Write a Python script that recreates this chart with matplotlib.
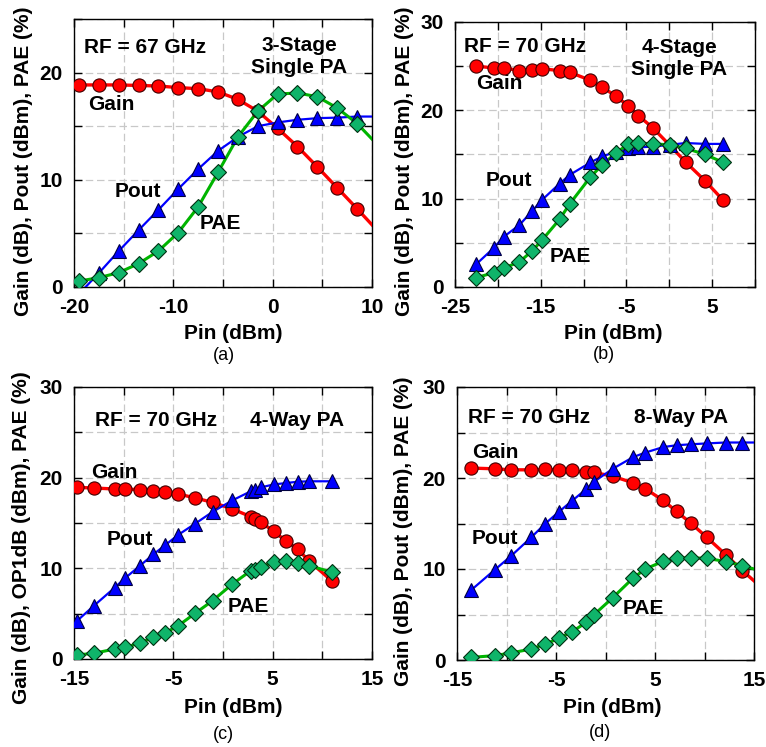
import numpy as np
import matplotlib.pyplot as plt
from matplotlib.ticker import MultipleLocator, FuncFormatter

plt.rcParams['font.family'] = ['Liberation Sans', 'DejaVu Sans']
plt.rcParams['font.weight'] = 'bold'

# ---- (a) 3-stage single PA, 67 GHz ----
pin_a = [-19.5, -17.5, -15.5, -13.5, -11.5, -9.5, -7.5, -5.5, -3.5, -1.5,
         0.5, 2.5, 4.5, 6.5, 8.5]
gain_a = [18.85, 18.85, 18.85, 18.8, 18.75, 18.6, 18.5, 18.2, 17.5, 16.4,
          14.8, 13.1, 11.2, 9.25, 7.3]
pout_a = [-0.65, 1.3, 3.35, 5.3, 7.2, 9.15, 11.0, 12.7, 14.0, 15.0,
          15.35, 15.6, 15.75, 15.8, 15.9]
pae_a = [0.55, 0.87, 1.34, 2.18, 3.36, 5.08, 7.48, 10.7, 14.0, 16.4,
         18.0, 18.1, 17.75, 16.7, 15.25]
# where the fitted curves leave the plot at Pin = 10 dBm
edge_a = {'gain': 5.8, 'pout': 15.9, 'pae': 13.8}

# ---- (b) 4-stage single PA, 70 GHz ----
pin_b = [-22.5, -20.5, -19.3, -17.5, -16.0, -14.8, -12.8, -11.6, -9.2, -7.8,
         -6.2, -4.8, -3.6, -1.9, 0.1, 1.9, 4.2, 6.3]
gain_b = [25.0, 24.8, 24.8, 24.5, 24.6, 24.7, 24.5, 24.3, 23.4, 22.6,
          21.6, 20.5, 19.4, 18.0, 16.0, 14.15, 12.0, 9.8]
pout_b = [2.6, 4.4, 5.7, 7.0, 8.6, 9.9, 11.7, 12.7, 14.1, 14.8,
          15.3, 15.7, 15.8, 15.9, 16.1, 16.3, 16.2, 16.2]
pae_b = [1.06, 1.62, 2.15, 2.83, 4.08, 5.36, 7.66, 9.43, 12.45, 13.85,
         15.2, 16.15, 16.3, 16.2, 16.1, 15.7, 15.0, 14.1]

# ---- (c) 4-way PA, 70 GHz ----
pin_c = [-14.7, -13.0, -10.9, -9.9, -8.4, -7.0, -5.85, -4.5, -2.8, -1.05,
         0.95, 2.8, 3.25, 3.85, 5.1, 6.3, 7.5, 8.7, 11.0]
gain_c = [18.93, 18.86, 18.75, 18.75, 18.68, 18.57, 18.38, 18.2, 17.76, 17.28,
          16.54, 15.7, 15.4, 15.07, 14.08, 13.05, 12.13, 10.77, 8.57]
pout_c = [4.2, 5.87, 7.87, 8.88, 10.25, 11.55, 12.53, 13.7, 14.93, 16.23,
          17.5, 18.5, 18.67, 18.94, 19.25, 19.4, 19.55, 19.6, 19.6]
pae_c = [0.44, 0.63, 1.1, 1.29, 1.73, 2.39, 2.87, 3.68, 5.04, 6.43,
         8.27, 9.74, 9.85, 10.18, 10.66, 10.77, 10.59, 10.29, 9.56]

# ---- (d) 8-way PA, 70 GHz ----
pin_d = [-13.55, -11.2, -9.57, -7.48, -6.07, -4.69, -3.37, -1.92, -1.15, 0.71,
         2.8, 4.04, 5.83, 7.18, 8.59, 10.21, 12.13, 13.82]
gain_d = [21.09, 21.01, 20.9, 20.9, 20.94, 20.9, 20.83, 20.61, 20.61, 20.2,
          19.47, 18.81, 17.53, 16.32, 15.07, 13.5, 11.59, 9.83]
pout_d = [7.7, 9.9, 11.4, 13.5, 15.0, 16.3, 17.5, 18.8, 19.6, 21.0,
          22.3, 22.8, 23.4, 23.6, 23.7, 23.8, 23.9, 23.9]
pae_d = [0.29, 0.48, 0.77, 1.21, 1.76, 2.38, 3.12, 4.14, 4.99, 6.82,
         9.02, 10.01, 10.85, 11.22, 11.22, 11.18, 10.82, 10.38]
edge_d = {'gain': 8.7, 'pout': 23.9, 'pae': 10.0}

RED, BLUE, GREEN, GREEN_MK = '#ff0000', '#0000ff', '#00b400', '#0fb46a'
FS = 15

W, H = 766, 747
fig = plt.figure(figsize=(W / 100, H / 100), dpi=100)


def box(l, t, r, b):
    return [l / W, 1 - b / H, (r - l) / W, (b - t) / H]


panels = [
    dict(pos=box(74, 19, 372, 287), xlim=(-20, 10), ylim=(0, 25),
         xlabels=[-20, -10, 0, 10], ylabels=[0, 10, 20],
         data=(pin_a, gain_a, pout_a, pae_a), edge=edge_a,
         ylab='Gain (dB), Pout (dBm), PAE (%)', tag='(a)',
         ylab_xy=(-0.171, 0.47), xlab_xy=(0.534, -0.172), tag_xy=(0.503, -0.254),
         rf=('RF = 67 GHz', -12.85, 22.3), name=('3-Stage\nSingle PA', 2.65, 21.5),
         lab={'Gain': (-16.2, 17.07), 'Pout': (-13.6, 8.9), 'PAE': (-5.3, 5.94)}),
    dict(pos=box(455, 22, 755, 287), xlim=(-25, 10), ylim=(0, 30),
         xlabels=[-25, -15, -5, 5], ylabels=[0, 10, 20, 30],
         data=(pin_b, gain_b, pout_b, pae_b), edge=None,
         ylab='Gain (dB), Pout (dBm), PAE (%)', tag='(b)',
         ylab_xy=(-0.169, 0.476), xlab_xy=(0.526, -0.175), tag_xy=(0.498, -0.256),
         rf=('RF = 70 GHz', -16.8, 27.18), name=('4-Stage\nSingle PA', 1.18, 25.86),
         lab={'Gain': (-19.8, 23.04), 'Pout': (-18.7, 12.0), 'PAE': (-11.6, 3.5)}),
    dict(pos=box(74, 387, 372, 659), xlim=(-15, 15), ylim=(0, 30),
         xlabels=[-15, -5, 5, 15], ylabels=[0, 10, 20, 30],
         data=(pin_c, gain_c, pout_c, pae_c), edge=None,
         ylab='Gain (dB), OP1dB (dBm), PAE (%)', tag='(c)',
         ylab_xy=(-0.176, 0.445), xlab_xy=(0.535, -0.178), tag_xy=(0.503, -0.276),
         rf=('RF = 70 GHz', -6.74, 26.3), name=('4-Way PA', 7.48, 26.3),
         lab={'Gain': (-10.94, 20.54), 'Pout': (-9.33, 13.17), 'PAE': (2.55, 5.78)}),
    dict(pos=box(457, 387, 754, 660), xlim=(-15, 15), ylim=(0, 30),
         xlabels=[-15, -5, 5, 15], ylabels=[0, 10, 20, 30],
         data=(pin_d, gain_d, pout_d, pae_d), edge=edge_d,
         ylab='Gain (dB), Pout (dBm), PAE (%)', tag='(d)',
         ylab_xy=(-0.18, 0.47), xlab_xy=(0.523, -0.173), tag_xy=(0.483, -0.265),
         rf=('RF = 70 GHz', -7.72, 26.62), name=('8-Way PA', 7.62, 26.62),
         lab={'Gain': (-11.16, 22.77), 'Pout': (-11.19, 13.39), 'PAE': (3.81, 5.61)}),
]

for p in panels:
    ax = fig.add_axes(p['pos'])
    pin, gain, pout, pae = p['data']
    x_line = list(pin)
    extra_x = [p['xlim'][1]] if p['edge'] else []

    def ext(v, key):
        return list(v) + ([p['edge'][key]] if p['edge'] else [])

    ax.plot(x_line + extra_x, ext(gain, 'gain'), '-', color=RED, lw=2.4, zorder=3)
    ax.plot(x_line + extra_x, ext(pout, 'pout'), '-', color=BLUE, lw=1.6, zorder=3)
    ax.plot(x_line + extra_x, ext(pae, 'pae'), '-', color=GREEN, lw=2.2, zorder=3)
    ax.plot(pin, gain, 'o', ms=9.5, mfc=RED, mec='#400000', mew=0.8, zorder=4)
    ax.plot(pin, pout, '^', ms=10.5, mfc=BLUE, mec='#000040', mew=0.8, zorder=4)
    ax.plot(pin, pae, 'D', ms=7.8, mfc=GREEN_MK, mec='#003010', mew=0.8, zorder=5)

    ax.set_xlim(*p['xlim'])
    ax.set_ylim(*p['ylim'])
    ax.xaxis.set_major_locator(MultipleLocator(5))
    ax.yaxis.set_major_locator(MultipleLocator(5))
    xl, yl = p['xlabels'], p['ylabels']
    ax.xaxis.set_major_formatter(FuncFormatter(
        lambda v, _, xl=xl: f'{v:g}' if round(v) in xl else ''))
    ax.yaxis.set_major_formatter(FuncFormatter(
        lambda v, _, yl=yl: f'{v:g}' if round(v) in yl else ''))
    ax.tick_params(direction='in', length=6, width=1, top=True, right=True,
                   labelsize=FS, pad=8)
    for lbl in ax.get_xticklabels() + ax.get_yticklabels():
        lbl.set_fontweight('bold')
    ax.grid(True, color='#c8c8c8', ls=(0, (6, 3)), lw=0.9)
    ax.set_axisbelow(True)
    for s in ax.spines.values():
        s.set_linewidth(1.0)

    ax.set_xlabel('Pin (dBm)', fontsize=FS, fontweight='bold')
    ax.xaxis.set_label_coords(*p['xlab_xy'])
    ax.xaxis.label.set_va('center')
    ax.set_ylabel(p['ylab'], fontsize=FS, fontweight='bold')
    ax.yaxis.set_label_coords(*p['ylab_xy'])
    ax.yaxis.label.set_va('center')
    ax.text(*p['tag_xy'], p['tag'], transform=ax.transAxes, ha='center',
            va='center', fontsize=13, fontweight='normal')

    txt, tx, ty = p['rf']
    ax.text(tx, ty, txt, fontsize=FS, fontweight='bold', va='center', ha='center')
    txt, tx, ty = p['name']
    ax.text(tx, ty, txt, fontsize=FS, fontweight='bold', va='center',
            ha='center', linespacing=1.15)
    for k, (tx, ty) in p['lab'].items():
        ax.text(tx, ty, k, fontsize=FS, fontweight='bold', va='center', ha='center')

fig.savefig('out.png', dpi=100)
